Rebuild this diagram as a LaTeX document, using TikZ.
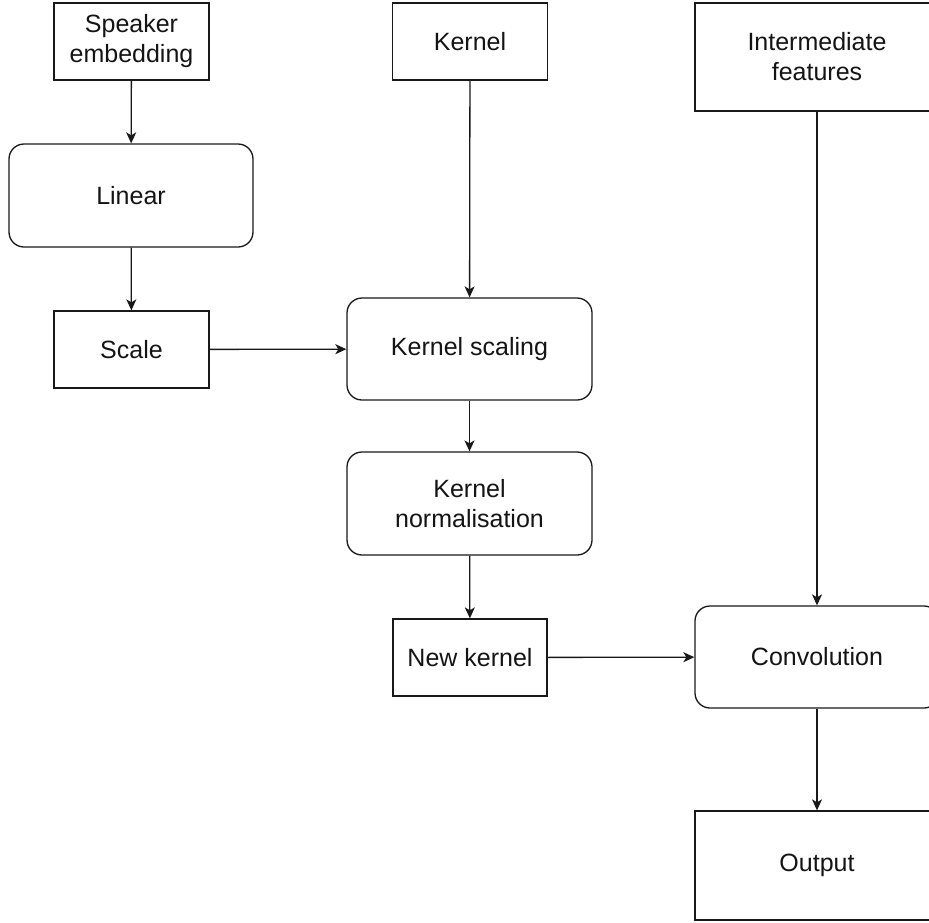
\documentclass[tikz,border=0pt]{standalone}
\usepackage{fontspec}
\setmainfont{Liberation Sans}
\usetikzlibrary{arrows.meta}

\tikzset{
  box/.style={draw=black!90, line width=1.3pt, fill=white, align=center,
    inner sep=0pt, text=black!92, font=\fontsize{25}{30}\selectfont},
  roundbox/.style={box, rounded corners=15pt},
  flow/.style={draw=black!90, line width=1.3pt,
    -{Stealth[length=11pt,width=10pt,inset=3pt]}}
}

\begin{document}
\begin{tikzpicture}[x=1pt,y=-1pt]
  \clip (0,0) rectangle (929,922);
  \fill[white] (0,0) rectangle (929,922);

  % left column: speaker conditioning
  \node[box, minimum width=155pt, minimum height=77pt] (spk) at (131.5,41.5) {Speaker\\embedding};
  \node[roundbox, minimum width=244pt, minimum height=103pt] (lin) at (131,195.5) {Linear};
  \node[box, minimum width=155pt, minimum height=77pt] (scl) at (131.5,349.5) {Scale};

  % middle column: kernel path
  \node[box, minimum width=155pt, minimum height=77pt] (ker) at (470,41.5) {Kernel};
  \node[roundbox, minimum width=245pt, minimum height=102pt] (ksc) at (469.5,349) {Kernel scaling};
  \node[roundbox, minimum width=245pt, minimum height=103pt] (kno) at (469.5,503.5) {Kernel\\normalisation};
  \node[box, minimum width=154pt, minimum height=77pt] (nke) at (470,657.5) {New kernel};

  % right column: feature path
  \node[box, minimum width=244pt, minimum height=108pt] (feat) at (817,57) {Intermediate\\features};
  \node[roundbox, minimum width=244pt, minimum height=102pt] (conv) at (817,657) {Convolution};
  \node[box, minimum width=244pt, minimum height=109pt] (out) at (817,865.5) {Output};

  % connectors
  \draw[flow] (spk) -- (lin);
  \draw[flow] (lin) -- (scl);
  \draw[flow] (scl) -- (ksc);
  \draw[flow] (ker) -- (ksc);
  \draw[flow] (ksc) -- (kno);
  \draw[flow] (kno) -- (nke);
  \draw[flow] (nke) -- (conv);
  \draw[flow] (feat) -- (conv);
  \draw[flow] (conv) -- (out);
\end{tikzpicture}
\end{document}
